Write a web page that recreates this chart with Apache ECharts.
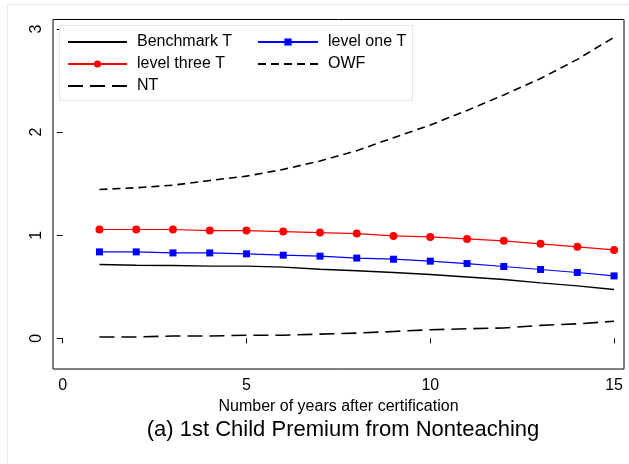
<!DOCTYPE html>
<html>
<head>
<meta charset="utf-8">
<script src="https://cdn.jsdelivr.net/npm/echarts@6/dist/echarts.min.js"></script>
<style>
  html, body { margin: 0; padding: 0; background: #ffffff; }
  #chart { width: 629px; height: 464px; }
</style>
</head>
<body>
<div id="chart"></div>
<script>
// Years after certification
const years = [1, 2, 3, 4, 5, 6, 7, 8, 9, 10, 11, 12, 13, 14, 15];

// Premium paths by group
const benchmarkT = [0.715, 0.709, 0.706, 0.700, 0.700, 0.690, 0.670, 0.655, 0.638, 0.618, 0.595, 0.570, 0.537, 0.508, 0.473];
const levelOneT  = [0.838, 0.838, 0.828, 0.828, 0.819, 0.806, 0.796, 0.778, 0.767, 0.748, 0.725, 0.696, 0.667, 0.638, 0.605];
const levelThreeT = [1.055, 1.055, 1.055, 1.045, 1.045, 1.035, 1.025, 1.016, 0.993, 0.983, 0.964, 0.945, 0.916, 0.887, 0.857];
const owf = [1.443, 1.460, 1.485, 1.530, 1.573, 1.638, 1.720, 1.820, 1.945, 2.068, 2.210, 2.360, 2.520, 2.705, 2.920];
const nt  = [0.013, 0.013, 0.022, 0.022, 0.030, 0.030, 0.040, 0.050, 0.066, 0.083, 0.092, 0.100, 0.125, 0.140, 0.165];

// Tick labels
const xTicks = [0, 5, 10, 15];
const yTicks = [0, 1, 2, 3];

const pairs = (vals) => years.map((y, i) => [y, vals[i]]);

const FONT = '"Liberation Sans", Arial, Helvetica, sans-serif';

const chart = echarts.init(document.getElementById('chart'), null, { renderer: 'canvas' });

const legendText = { fontFamily: FONT, fontSize: 16, color: '#000', padding: [0, 0, 0, 5] };
// Line-only legend entries: hide the marker, keep the stroke
const lineOnly = (name) => ({ name: name, itemStyle: { opacity: 0 } });

chart.setOption({
  animation: false,
  backgroundColor: '#ffffff',
  grid: {
    left: 53, right: 5, top: 19.5, bottom: 95,
    show: true, borderColor: '#000', borderWidth: 1, backgroundColor: 'transparent'
  },
  xAxis: {
    type: 'value',
    min: -0.264, max: 15.27,
    name: 'Number of years after certification',
    nameLocation: 'middle',
    nameGap: 22,
    nameTextStyle: { fontFamily: FONT, fontSize: 16, color: '#000' },
    axisLine: { show: false },
    axisTick: { show: true, length: 5, customValues: xTicks, lineStyle: { color: '#000' } },
    axisLabel: { customValues: xTicks, fontFamily: FONT, fontSize: 16, color: '#000', margin: 9 },
    splitLine: { show: false }
  },
  yAxis: {
    type: 'value',
    min: -0.298, max: 3.092,
    axisLine: { show: false },
    axisTick: { show: true, length: 6, customValues: yTicks, lineStyle: { color: '#000' } },
    axisLabel: { customValues: yTicks, fontFamily: FONT, fontSize: 16, color: '#000', rotate: 90, margin: 8 },
    splitLine: { show: false }
  },
  legend: [
    {
      data: [lineOnly('Benchmark T'), 'level three T', lineOnly('NT')],
      orient: 'vertical', left: 67, top: 34, padding: 0,
      itemWidth: 59, itemHeight: 9, itemGap: 6,
      textStyle: legendText, selectedMode: false
    },
    {
      data: ['level one T', lineOnly('OWF')],
      orient: 'vertical', left: 257, top: 34, padding: 0,
      itemWidth: 60, itemHeight: 9, itemGap: 6,
      textStyle: legendText, selectedMode: false
    }
  ],
  graphic: [
    {
      type: 'rect', silent: true, z: 0,
      shape: { x: 7.5, y: 4.5, width: 640, height: 480 },
      style: { fill: 'none', stroke: '#e6ebee', lineWidth: 1 }
    },
    {
      type: 'rect', silent: true, z: 3,
      shape: { x: 59.5, y: 25.5, width: 353, height: 75 },
      style: { fill: '#ffffff', stroke: '#e1e8ec', lineWidth: 1 }
    },
    {
      type: 'text', silent: true,
      x: 343, y: 430,
      style: {
        text: '(a) 1st Child Premium from Nonteaching',
        fontFamily: FONT, fontSize: 22, fill: '#000',
        align: 'center', verticalAlign: 'middle'
      }
    }
  ],
  series: [
    {
      name: 'Benchmark T', type: 'line', data: pairs(benchmarkT),
      symbol: 'none', lineStyle: { color: '#000', width: 1.4 }, itemStyle: { color: '#000' }
    },
    {
      name: 'level one T', type: 'line', data: pairs(levelOneT),
      symbol: 'rect', symbolSize: 7,
      lineStyle: { color: '#0000ff', width: 1.2 }, itemStyle: { color: '#0000ff' }
    },
    {
      name: 'level three T', type: 'line', data: pairs(levelThreeT),
      symbol: 'circle', symbolSize: 8,
      lineStyle: { color: '#ff0000', width: 1.2 }, itemStyle: { color: '#ff0000' }
    },
    {
      name: 'OWF', type: 'line', data: pairs(owf),
      symbol: 'none', lineStyle: { color: '#000', width: 1.6, type: [8, 5] }, itemStyle: { color: '#000' }
    },
    {
      name: 'NT', type: 'line', data: pairs(nt),
      symbol: 'none', lineStyle: { color: '#000', width: 1.6, type: [15, 7] }, itemStyle: { color: '#000' }
    }
  ]
});
</script>
</body>
</html>
